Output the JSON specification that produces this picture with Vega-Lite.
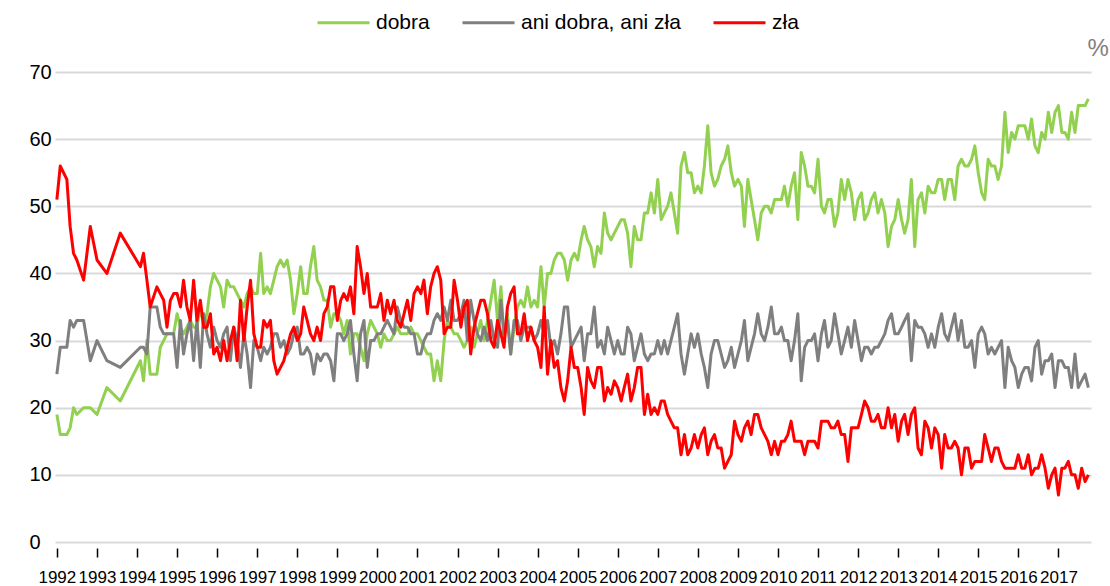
{
"$schema": "https://vega.github.io/schema/vega-lite/v6.json",
"width": 1036, "height": 470,
"autosize": {"type": "none"},
"padding": {"left": 55, "top": 72, "right": 19, "bottom": 44},
"background": "white",
"config": {"view": {"stroke": null}, "font": "Liberation Sans"},
"data": {"values": [
{"d":"1992-01","g":19,"n":25,"z":51},{"d":"1992-02","g":16,"n":29,"z":56},{"d":"1992-04","g":16,"n":29,"z":54},{"d":"1992-05","g":17,"n":33,"z":47},{"d":"1992-06","g":20,"n":32,"z":43},{"d":"1992-07","g":19,"n":33,"z":42},{"d":"1992-09","g":20,"n":33,"z":39},{"d":"1992-11","g":20,"n":27,"z":47},
{"d":"1993-01","g":19,"n":30,"z":42},{"d":"1993-04","g":23,"n":27,"z":40},{"d":"1993-08","g":21,"n":26,"z":46},
{"d":"1994-02","g":27,"n":29,"z":41},{"d":"1994-03","g":24,"n":29,"z":43},{"d":"1994-04","g":30,"n":28,"z":39},{"d":"1994-05","g":25,"n":35,"z":35},{"d":"1994-07","g":25,"n":35,"z":38},{"d":"1994-08","g":29,"n":32,"z":37},{"d":"1994-09","g":30,"n":31,"z":36},{"d":"1994-10","g":31,"n":31,"z":32},{"d":"1994-11","g":31,"n":31,"z":36},{"d":"1994-12","g":31,"n":31,"z":37},
{"d":"1995-01","g":34,"n":26,"z":37},{"d":"1995-02","g":32,"n":33,"z":35},{"d":"1995-03","g":31,"n":28,"z":39},{"d":"1995-04","g":32,"n":31,"z":35},{"d":"1995-05","g":33,"n":33,"z":33},{"d":"1995-06","g":32,"n":27,"z":39},{"d":"1995-07","g":32,"n":33,"z":33},{"d":"1995-08","g":35,"n":26,"z":36},{"d":"1995-09","g":32,"n":34,"z":32},{"d":"1995-10","g":34,"n":31,"z":32},{"d":"1995-11","g":38,"n":29,"z":34},{"d":"1995-12","g":40,"n":32,"z":28},
{"d":"1996-01","g":39,"n":30,"z":29},{"d":"1996-02","g":38,"n":29,"z":27},{"d":"1996-03","g":35,"n":31,"z":30},{"d":"1996-04","g":39,"n":32,"z":27},{"d":"1996-05","g":38,"n":27,"z":30},{"d":"1996-06","g":38,"n":32,"z":32},{"d":"1996-07","g":37,"n":30,"z":27},{"d":"1996-08","g":36,"n":26,"z":36},{"d":"1996-09","g":35,"n":31,"z":30},{"d":"1996-10","g":37,"n":28,"z":35},{"d":"1996-11","g":38,"n":23,"z":39},{"d":"1996-12","g":37,"n":30,"z":31},
{"d":"1997-01","g":37,"n":29,"z":29},{"d":"1997-02","g":43,"n":27,"z":29},{"d":"1997-03","g":37,"n":29,"z":33},{"d":"1997-04","g":38,"n":28,"z":32},{"d":"1997-05","g":37,"n":29,"z":33},{"d":"1997-06","g":39,"n":31,"z":27},{"d":"1997-07","g":41,"n":31,"z":25},{"d":"1997-08","g":42,"n":29,"z":26},{"d":"1997-09","g":41,"n":30,"z":27},{"d":"1997-10","g":42,"n":28,"z":29},{"d":"1997-11","g":39,"n":29,"z":31},{"d":"1997-12","g":34,"n":31,"z":32},
{"d":"1998-01","g":37,"n":32,"z":30},{"d":"1998-02","g":41,"n":28,"z":31},{"d":"1998-03","g":37,"n":28,"z":35},{"d":"1998-04","g":37,"n":29,"z":33},{"d":"1998-05","g":41,"n":28,"z":31},{"d":"1998-06","g":44,"n":25,"z":30},{"d":"1998-07","g":39,"n":28,"z":32},{"d":"1998-08","g":38,"n":27,"z":30},{"d":"1998-09","g":36,"n":28,"z":34},{"d":"1998-10","g":36,"n":28,"z":35},{"d":"1998-11","g":32,"n":27,"z":38},{"d":"1998-12","g":34,"n":24,"z":38},
{"d":"1999-01","g":34,"n":31,"z":33},{"d":"1999-02","g":33,"n":31,"z":36},{"d":"1999-03","g":31,"n":30,"z":37},{"d":"1999-04","g":33,"n":31,"z":36},{"d":"1999-05","g":28,"n":33,"z":38},{"d":"1999-06","g":31,"n":28,"z":34},{"d":"1999-07","g":31,"n":24,"z":44},{"d":"1999-08","g":29,"n":31,"z":41},{"d":"1999-09","g":27,"n":33,"z":37},{"d":"1999-10","g":31,"n":26,"z":40},{"d":"1999-11","g":33,"n":30,"z":35},{"d":"1999-12","g":32,"n":30,"z":35},
{"d":"2000-01","g":31,"n":31,"z":35},{"d":"2000-02","g":29,"n":31,"z":37},{"d":"2000-03","g":31,"n":32,"z":33},{"d":"2000-04","g":30,"n":33,"z":36},{"d":"2000-05","g":30,"n":32,"z":34},{"d":"2000-06","g":31,"n":31,"z":36},{"d":"2000-07","g":32,"n":35,"z":33},{"d":"2000-08","g":31,"n":33,"z":32},{"d":"2000-09","g":31,"n":32,"z":34},{"d":"2000-10","g":31,"n":32,"z":36},{"d":"2000-11","g":32,"n":31,"z":33},{"d":"2000-12","g":31,"n":31,"z":37},
{"d":"2001-01","g":31,"n":28,"z":38},{"d":"2001-02","g":30,"n":28,"z":37},{"d":"2001-03","g":29,"n":30,"z":39},{"d":"2001-04","g":28,"n":31,"z":34},{"d":"2001-05","g":28,"n":31,"z":38},{"d":"2001-06","g":24,"n":33,"z":40},{"d":"2001-07","g":27,"n":34,"z":41},{"d":"2001-08","g":24,"n":33,"z":39},{"d":"2001-09","g":30,"n":35,"z":31},{"d":"2001-10","g":33,"n":33,"z":32},{"d":"2001-11","g":32,"n":36,"z":32},{"d":"2001-12","g":31,"n":33,"z":39},
{"d":"2002-01","g":31,"n":33,"z":36},{"d":"2002-02","g":30,"n":34,"z":32},{"d":"2002-03","g":29,"n":36,"z":35},{"d":"2002-04","g":30,"n":30,"z":36},{"d":"2002-05","g":32,"n":36,"z":28},{"d":"2002-06","g":29,"n":33,"z":32},{"d":"2002-07","g":31,"n":31,"z":34},{"d":"2002-08","g":33,"n":30,"z":36},{"d":"2002-09","g":30,"n":32,"z":36},{"d":"2002-10","g":33,"n":30,"z":34},{"d":"2002-11","g":36,"n":33,"z":30},{"d":"2002-12","g":39,"n":30,"z":29},
{"d":"2003-01","g":33,"n":29,"z":33},{"d":"2003-02","g":38,"n":36,"z":31},{"d":"2003-03","g":30,"n":31,"z":29},{"d":"2003-04","g":34,"n":33,"z":35},{"d":"2003-05","g":28,"n":28,"z":37},{"d":"2003-06","g":32,"n":33,"z":38},{"d":"2003-07","g":35,"n":33,"z":31},{"d":"2003-08","g":36,"n":30,"z":31},{"d":"2003-09","g":35,"n":32,"z":34},{"d":"2003-10","g":38,"n":32,"z":30},{"d":"2003-11","g":35,"n":32,"z":32},{"d":"2003-12","g":36,"n":30,"z":30},
{"d":"2004-01","g":35,"n":31,"z":29},{"d":"2004-02","g":41,"n":33,"z":26},{"d":"2004-03","g":35,"n":31,"z":35},{"d":"2004-04","g":40,"n":33,"z":25},{"d":"2004-05","g":40,"n":29,"z":30},{"d":"2004-06","g":42,"n":30,"z":26},{"d":"2004-07","g":43,"n":28,"z":27},{"d":"2004-08","g":43,"n":31,"z":23},{"d":"2004-09","g":42,"n":35,"z":21},{"d":"2004-10","g":39,"n":35,"z":24},{"d":"2004-11","g":42,"n":29,"z":29},{"d":"2004-12","g":43,"n":30,"z":26},
{"d":"2005-01","g":42,"n":31,"z":26},{"d":"2005-02","g":45,"n":32,"z":23},{"d":"2005-03","g":47,"n":27,"z":19},{"d":"2005-04","g":45,"n":31,"z":26},{"d":"2005-05","g":44,"n":31,"z":24},{"d":"2005-06","g":41,"n":35,"z":23},{"d":"2005-07","g":44,"n":29,"z":26},{"d":"2005-08","g":43,"n":30,"z":26},{"d":"2005-09","g":49,"n":28,"z":21},{"d":"2005-10","g":46,"n":32,"z":23},{"d":"2005-11","g":45,"n":30,"z":22},{"d":"2005-12","g":46,"n":28,"z":24},
{"d":"2006-01","g":47,"n":30,"z":23},{"d":"2006-02","g":48,"n":28,"z":21},{"d":"2006-03","g":48,"n":28,"z":23},{"d":"2006-04","g":46,"n":32,"z":25},{"d":"2006-05","g":41,"n":31,"z":21},{"d":"2006-06","g":47,"n":27,"z":23},{"d":"2006-07","g":45,"n":29,"z":26},{"d":"2006-08","g":45,"n":31,"z":26},{"d":"2006-09","g":49,"n":28,"z":19},{"d":"2006-10","g":49,"n":27,"z":22},{"d":"2006-11","g":52,"n":28,"z":19},{"d":"2006-12","g":49,"n":28,"z":20},
{"d":"2007-01","g":54,"n":30,"z":19},{"d":"2007-02","g":48,"n":28,"z":21},{"d":"2007-03","g":49,"n":30,"z":21},{"d":"2007-04","g":50,"n":28,"z":19},{"d":"2007-05","g":52,"n":30,"z":18},{"d":"2007-06","g":49,"n":32,"z":17},{"d":"2007-07","g":46,"n":34,"z":17},{"d":"2007-08","g":56,"n":28,"z":13},{"d":"2007-09","g":58,"n":25,"z":16},{"d":"2007-10","g":55,"n":28,"z":13},{"d":"2007-11","g":55,"n":31,"z":14},{"d":"2007-12","g":52,"n":29,"z":16},
{"d":"2008-01","g":53,"n":31,"z":14},{"d":"2008-02","g":52,"n":28,"z":16},{"d":"2008-03","g":56,"n":26,"z":17},{"d":"2008-04","g":62,"n":23,"z":13},{"d":"2008-05","g":55,"n":28,"z":15},{"d":"2008-06","g":53,"n":30,"z":16},{"d":"2008-07","g":54,"n":30,"z":14},{"d":"2008-08","g":56,"n":28,"z":14},{"d":"2008-09","g":57,"n":26,"z":11},{"d":"2008-10","g":59,"n":27,"z":12},{"d":"2008-11","g":55,"n":29,"z":13},{"d":"2008-12","g":53,"n":26,"z":18},
{"d":"2009-01","g":54,"n":28,"z":16},{"d":"2009-02","g":53,"n":30,"z":15},{"d":"2009-03","g":47,"n":33,"z":17},{"d":"2009-04","g":54,"n":27,"z":18},{"d":"2009-05","g":51,"n":29,"z":16},{"d":"2009-06","g":48,"n":31,"z":19},{"d":"2009-07","g":45,"n":34,"z":19},{"d":"2009-08","g":49,"n":31,"z":17},{"d":"2009-09","g":50,"n":30,"z":16},{"d":"2009-10","g":50,"n":32,"z":15},{"d":"2009-11","g":49,"n":35,"z":13},{"d":"2009-12","g":51,"n":31,"z":15},
{"d":"2010-01","g":51,"n":31,"z":13},{"d":"2010-02","g":51,"n":32,"z":15},{"d":"2010-03","g":53,"n":30,"z":15},{"d":"2010-04","g":50,"n":30,"z":16},{"d":"2010-05","g":53,"n":27,"z":18},{"d":"2010-06","g":55,"n":30,"z":15},{"d":"2010-07","g":48,"n":34,"z":15},{"d":"2010-08","g":58,"n":24,"z":15},{"d":"2010-09","g":56,"n":29,"z":13},{"d":"2010-10","g":53,"n":30,"z":15},{"d":"2010-11","g":53,"n":30,"z":15},{"d":"2010-12","g":52,"n":31,"z":15},
{"d":"2011-01","g":57,"n":27,"z":14},{"d":"2011-02","g":50,"n":31,"z":18},{"d":"2011-03","g":49,"n":33,"z":18},{"d":"2011-04","g":51,"n":29,"z":18},{"d":"2011-05","g":51,"n":30,"z":17},{"d":"2011-06","g":47,"n":34,"z":17},{"d":"2011-07","g":49,"n":31,"z":18},{"d":"2011-08","g":54,"n":28,"z":16},{"d":"2011-09","g":51,"n":30,"z":16},{"d":"2011-10","g":54,"n":32,"z":12},{"d":"2011-11","g":52,"n":29,"z":17},{"d":"2011-12","g":48,"n":33,"z":17},
{"d":"2012-01","g":51,"n":30,"z":17},{"d":"2012-02","g":52,"n":27,"z":19},{"d":"2012-03","g":48,"n":29,"z":21},{"d":"2012-04","g":49,"n":29,"z":20},{"d":"2012-05","g":51,"n":28,"z":18},{"d":"2012-06","g":52,"n":29,"z":18},{"d":"2012-07","g":49,"n":29,"z":19},{"d":"2012-08","g":51,"n":30,"z":17},{"d":"2012-09","g":49,"n":31,"z":17},{"d":"2012-10","g":44,"n":33,"z":20},{"d":"2012-11","g":47,"n":34,"z":17},{"d":"2012-12","g":48,"n":31,"z":19},
{"d":"2013-01","g":51,"n":31,"z":15},{"d":"2013-02","g":48,"n":32,"z":18},{"d":"2013-03","g":46,"n":33,"z":19},{"d":"2013-04","g":48,"n":34,"z":16},{"d":"2013-05","g":54,"n":27,"z":19},{"d":"2013-06","g":44,"n":33,"z":20},{"d":"2013-07","g":51,"n":32,"z":14},{"d":"2013-08","g":52,"n":32,"z":13},{"d":"2013-09","g":49,"n":31,"z":18},{"d":"2013-10","g":53,"n":29,"z":17},{"d":"2013-11","g":52,"n":31,"z":14},{"d":"2013-12","g":52,"n":29,"z":17},
{"d":"2014-01","g":54,"n":32,"z":16},{"d":"2014-02","g":54,"n":34,"z":11},{"d":"2014-03","g":51,"n":31,"z":16},{"d":"2014-04","g":54,"n":30,"z":14},{"d":"2014-05","g":54,"n":32,"z":14},{"d":"2014-06","g":51,"n":34,"z":15},{"d":"2014-07","g":56,"n":30,"z":14},{"d":"2014-08","g":57,"n":33,"z":10},{"d":"2014-09","g":56,"n":29,"z":14},{"d":"2014-10","g":56,"n":29,"z":14},{"d":"2014-11","g":57,"n":30,"z":11},{"d":"2014-12","g":59,"n":26,"z":12},
{"d":"2015-01","g":55,"n":31,"z":12},{"d":"2015-02","g":52,"n":32,"z":12},{"d":"2015-03","g":51,"n":31,"z":16},{"d":"2015-04","g":57,"n":28,"z":14},{"d":"2015-05","g":56,"n":29,"z":12},{"d":"2015-06","g":56,"n":28,"z":14},{"d":"2015-07","g":54,"n":29,"z":14},{"d":"2015-08","g":56,"n":30,"z":12},{"d":"2015-09","g":64,"n":23,"z":11},{"d":"2015-10","g":58,"n":29,"z":11},{"d":"2015-11","g":61,"n":27,"z":11},{"d":"2015-12","g":60,"n":26,"z":11},
{"d":"2016-01","g":62,"n":23,"z":13},{"d":"2016-02","g":62,"n":25,"z":11},{"d":"2016-03","g":62,"n":26,"z":11},{"d":"2016-04","g":60,"n":26,"z":13},{"d":"2016-05","g":63,"n":24,"z":10},{"d":"2016-06","g":59,"n":29,"z":11},{"d":"2016-07","g":58,"n":30,"z":11},{"d":"2016-08","g":61,"n":25,"z":13},{"d":"2016-09","g":60,"n":27,"z":11},{"d":"2016-10","g":64,"n":27,"z":8},{"d":"2016-11","g":61,"n":28,"z":10},{"d":"2016-12","g":64,"n":23,"z":11},
{"d":"2017-01","g":65,"n":27,"z":7},{"d":"2017-02","g":61,"n":27,"z":11},{"d":"2017-03","g":61,"n":26,"z":11},{"d":"2017-04","g":60,"n":26,"z":12},{"d":"2017-05","g":64,"n":23,"z":10},{"d":"2017-06","g":61,"n":28,"z":10},{"d":"2017-07","g":65,"n":23,"z":8},{"d":"2017-08","g":65,"n":24,"z":11},{"d":"2017-09","g":65,"n":25,"z":9},{"d":"2017-10","g":66,"n":23,"z":10}
]},
"transform": [{"fold": ["g", "n", "z"], "as": ["s", "v"]}],
"mark": {"type": "line", "strokeWidth": 3, "strokeJoin": "round"},
"encoding": {
  "x": {"field": "d", "type": "temporal",
    "scale": {"domain": [{"year": 1991, "month": 12, "date": 15}, {"year": 2017, "month": 10, "date": 25}]},
    "axis": {"title": null, "format": "%Y", "tickCount": {"interval": "year", "step": 1}, "labelOverlap": false, "labelFontSize": 17, "labelColor": "#000000", "labelFont": "Liberation Sans", "domain": false, "grid": false, "ticks": true, "tickColor": "#000000", "tickWidth": 1.5, "tickSize": 9, "offset": 6, "labelPadding": 12}},
  "y": {"field": "v", "type": "quantitative",
    "scale": {"domain": [0, 70]},
    "axis": {"values": [0, 10, 20, 30, 40, 50, 60, 70], "grid": true, "gridColor": "#d9d9d9", "gridWidth": 2, "domain": false, "ticks": false, "labelAlign": "left", "labelPadding": 26, "labelFontSize": 20, "labelColor": "#000000", "labelFont": "Liberation Sans",
      "title": "%", "titleAngle": 0, "titleX": 1032, "titleY": -24, "titleAlign": "left", "titleBaseline": "middle", "titleColor": "#808080", "titleFontSize": 24, "titleFontWeight": "normal", "titleFont": "Liberation Sans"}},
  "color": {"field": "s", "type": "nominal",
    "scale": {"domain": ["g", "n", "z"], "range": ["#92d050", "#7f7f7f", "#ff0000"]},
    "legend": {"title": null, "orient": "none", "legendX": 261, "legendY": -77, "direction": "horizontal", "symbolType": "stroke", "symbolSize": 2704, "symbolStrokeWidth": 3, "labelFontSize": 21, "labelFont": "Liberation Sans", "labelColor": "#000000", "labelOffset": 5, "columnPadding": 26, "padding": 0,
      "labelExpr": "datum.value == 'g' ? 'dobra' : datum.value == 'n' ? 'ani dobra, ani zła' : 'zła'"}}
}
}
